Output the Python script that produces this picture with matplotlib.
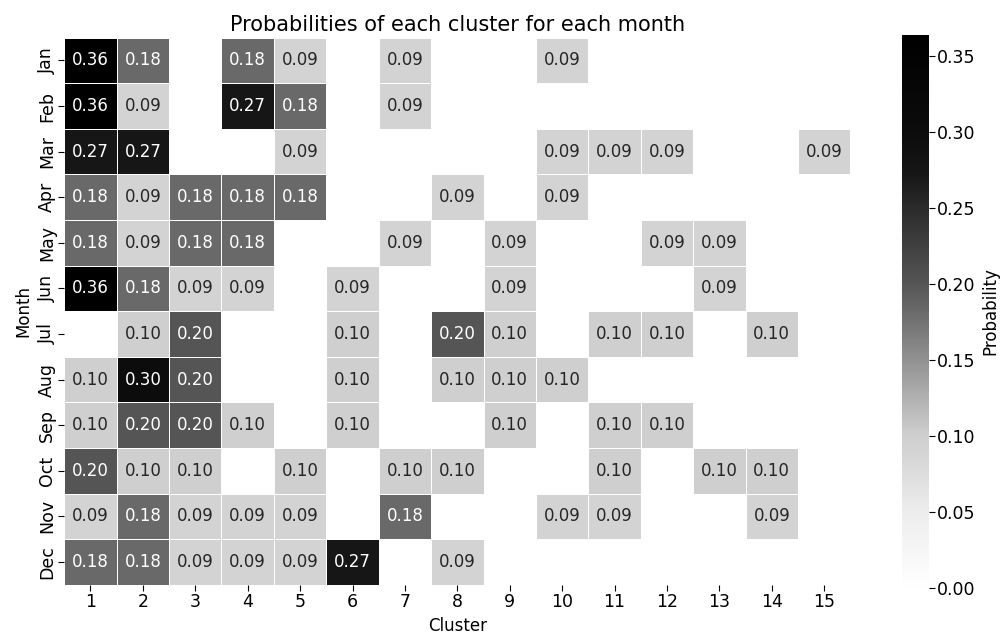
import numpy as np
import pandas as pd
import seaborn as sns
import matplotlib.pyplot as plt
from matplotlib.colors import LinearSegmentedColormap

months = ['Jan', 'Feb', 'Mar', 'Apr', 'May', 'Jun',
          'Jul', 'Aug', 'Sep', 'Oct', 'Nov', 'Dec']
clusters = list(range(1, 16))

# probability of each cluster per month (0 = not present)
jan = [0.364, 0.182, 0, 0.182, 0.091, 0, 0.091, 0, 0, 0.091, 0, 0, 0, 0, 0]
feb = [0.364, 0.091, 0, 0.273, 0.182, 0, 0.091, 0, 0, 0, 0, 0, 0, 0, 0]
mar = [0.273, 0.273, 0, 0, 0.091, 0, 0, 0, 0, 0.091, 0.091, 0.091, 0, 0, 0.091]
apr = [0.182, 0.091, 0.182, 0.182, 0.182, 0, 0, 0.091, 0, 0.091, 0, 0, 0, 0, 0]
may = [0.182, 0.091, 0.182, 0.182, 0, 0, 0.091, 0, 0.091, 0, 0, 0.091, 0.091, 0, 0]
jun = [0.364, 0.182, 0.091, 0.091, 0, 0.091, 0, 0, 0.091, 0, 0, 0, 0.091, 0, 0]
jul = [0, 0.10, 0.20, 0, 0, 0.10, 0, 0.20, 0.10, 0, 0.10, 0.10, 0, 0.10, 0]
aug = [0.10, 0.30, 0.20, 0, 0, 0.10, 0, 0.10, 0.10, 0.10, 0, 0, 0, 0, 0]
sep = [0.10, 0.20, 0.20, 0.10, 0, 0.10, 0, 0, 0.10, 0, 0.10, 0.10, 0, 0, 0]
oct_ = [0.20, 0.10, 0.10, 0, 0.10, 0, 0.10, 0.10, 0, 0, 0.10, 0, 0.10, 0.10, 0]
nov = [0.091, 0.182, 0.091, 0.091, 0.091, 0, 0.182, 0, 0, 0.091, 0.091, 0, 0, 0.091, 0]
dec = [0.182, 0.182, 0.091, 0.091, 0.091, 0.273, 0, 0.091, 0, 0, 0, 0, 0, 0, 0]

df = pd.DataFrame([jan, feb, mar, apr, may, jun, jul, aug, sep, oct_, nov, dec],
                  index=months, columns=clusters)

# grey ramp, darker than the stock Greys
cmap = LinearSegmentedColormap.from_list('grey_s', [
    (0.0, '#ffffff'), (0.14, '#ececec'), (0.25, '#d3d3d3'), (0.275, '#cfcfcf'),
    (0.41, '#929292'), (0.5, '#6a6a6a'), (0.55, '#555555'), (0.69, '#2a2a2a'),
    (0.75, '#161616'), (0.825, '#0c0c0c'), (1.0, '#000000')])

fig = plt.figure(figsize=(10.04, 6.39), dpi=100)
ax = fig.add_axes([0.064, 0.085, 0.783, 0.856])
cax = fig.add_axes([0.898, 0.08, 0.027, 0.866])

sns.heatmap(df, mask=(df == 0), cmap=cmap, vmin=0, vmax=0.364,
            annot=True, fmt='.2f', annot_kws={'size': 12},
            linewidths=0.5, linecolor='white', ax=ax, cbar_ax=cax,
            cbar_kws={'label': 'Probability'})

ax.set_title('Probabilities of each cluster for each month', fontsize=15, pad=5)
ax.set_xlabel('Cluster', fontsize=12, labelpad=4)
ax.set_ylabel('Month', fontsize=12, labelpad=4)
ax.set_yticklabels(months, rotation=90, va='center')
ax.tick_params(labelsize=12.5, length=4, pad=2)
cax.tick_params(labelsize=12.5, length=4, pad=2)
cax.yaxis.label.set_size(12)

fig.savefig('out.png', dpi=100)
